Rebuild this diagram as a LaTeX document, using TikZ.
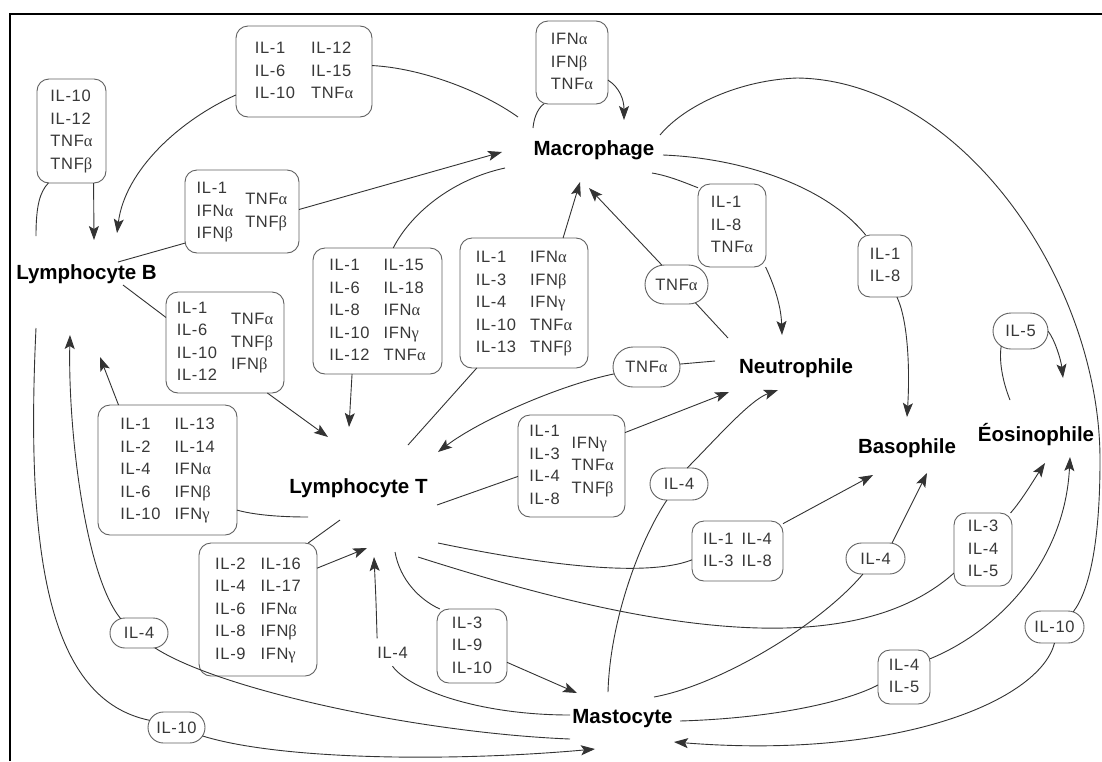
\documentclass[tikz,border=0pt]{standalone}
\usepackage{fontspec}
\setmainfont{Liberation Sans}
\newfontfamily\cytfam[LetterSpace=4]{Liberation Sans}
\newfontfamily\grkfam{Liberation Serif}
\newcommand\cytfont{\cytfam\fontsize{16.5pt}{22.5pt}\selectfont}
\newcommand\cellfont{\fontsize{20.5pt}{24pt}\selectfont\bfseries}
\newcommand\myA{{\grkfam α}}
\newcommand\myB{{\grkfam β}}
\newcommand\myG{{\grkfam γ}}
\newcommand\onecol[1]{\begin{tabular}[c]{@{}l@{}}#1\end{tabular}}
\newcommand\twocol[3][14pt]{\begin{tabular}[c]{@{}l@{}}#2\end{tabular}\hspace{#1}\begin{tabular}[c]{@{}l@{}}#3\end{tabular}}
\usetikzlibrary{arrows.meta,shapes.misc}
\begin{document}
\begin{tikzpicture}[x=1pt,y=-1pt,
  bx/.style={draw=black!62, line width=0.9pt, inner sep=0pt, outer sep=0pt, text=black!78, font=\cytfont},
  box/.style={bx, rectangle, rounded corners=12pt},
  oval/.style={bx, rounded rectangle},
  cell/.style={font=\cellfont, text=black, inner sep=0pt, anchor=base},
  link/.style={draw=black!80, line width=0.9pt},
  arr/.style={link, -{Stealth[length=14pt,width=10pt,inset=3pt]}},
  plain/.style={font=\cytfont, text=black!78, inner xsep=0pt, inner ysep=8pt, anchor=base}]
\useasboundingbox (0,0) rectangle (1102,761);
\fill[white] (0,0) rectangle (1102,761);
% frame
\draw[line width=2.6pt] (10,761) -- (10,14) -- (1102,14);

% cell labels
\node[cell] (LB) at (86.5,279) {Lymphocyte B};
\node[cell] (MA) at (594,155) {Macrophage};
\node[cell] (NE) at (796,373) {Neutrophile};
\node[cell] (LT) at (358.5,493) {Lymphocyte T};
\node[cell] (BA) at (907,453) {Basophile};
\node[cell] (EO) at (1036,441) {Éosinophile};
\node[cell] (MC) at (622.5,723) {Mastocyte};

% cytokine boxes
\node[box, minimum width=69pt, minimum height=104pt] (b1) at (71.5,131) {\onecol{IL-10\\IL-12\\TNF\myA\\TNF\myB}};
\node[box, minimum width=136pt, minimum height=91pt] (b2) at (304,71.5) {\twocol[16pt]{IL-1\\IL-6\\IL-10}{IL-12\\IL-15\\TNF\myA}};
\node[box, minimum width=114pt, minimum height=83pt] (b3) at (242,211.5) {\twocol[12pt]{IL-1\\IFN\myA\\IFN\myB}{TNF\myA\\TNF\myB}};
\node[box, minimum width=72pt, minimum height=83pt] (b4) at (572,62.5) {\onecol{IFN\myA\\IFN\myB\\TNF\myA}};
\node[box, minimum width=68pt, minimum height=83pt] (b5) at (732,225.5) {\onecol{IL-1\\IL-8\\TNF\myA}};
\node[box, minimum width=54pt, minimum height=62pt] (b6) at (885,266) {\onecol{IL-1\\IL-8}};
\node[box, minimum width=118pt, minimum height=101pt] (b7) at (225,342.5) {\twocol{IL-1\\IL-6\\IL-10\\IL-12}{TNF\myA\\TNF\myB\\IFN\myB}};
\node[box, minimum width=129pt, minimum height=126pt] (b8) at (377.5,311) {\twocol{IL-1\\IL-6\\IL-8\\IL-10\\IL-12}{IL-15\\IL-18\\IFN\myA\\IFN\myG\\TNF\myA}};
\node[box, minimum width=128pt, minimum height=130pt] (b9) at (524,303) {\twocol{IL-1\\IL-3\\IL-4\\IL-10\\IL-13}{IFN\myA\\IFN\myB\\IFN\myG\\TNF\myA\\TNF\myB}};
\node[oval, minimum width=63pt, minimum height=39pt] (b10) at (676.5,284.5) {TNF\myA};
\node[oval, minimum width=67pt, minimum height=40pt] (b11) at (646.5,367) {TNF\myA};
\node[box, minimum width=107pt, minimum height=102pt] (b12) at (571.5,466) {\twocol[12pt]{IL-1\\IL-3\\IL-4\\IL-8}{IFN\myG\\TNF\myA\\TNF\myB}};
\node[oval, minimum width=58pt, minimum height=32pt] (b13) at (679,484) {IL-4};
\node[box, minimum width=139pt, minimum height=130pt] (b14) at (167.5,470) {\twocol{IL-1\\IL-2\\IL-4\\IL-6\\IL-10}{IL-13\\IL-14\\IFN\myA\\IFN\myB\\IFN\myG}};
\node[box, minimum width=118pt, minimum height=133pt] (b15) at (258,609.5) {\twocol[15pt]{IL-2\\IL-4\\IL-6\\IL-8\\IL-9}{IL-16\\IL-17\\IFN\myA\\IFN\myB\\IFN\myG}};
\node[oval, minimum width=58pt, minimum height=30pt] (b16) at (139,633) {IL-4};
\node[oval, minimum width=57pt, minimum height=31pt] (b17) at (176.5,727.5) {IL-10};
\node[box, minimum width=70pt, minimum height=74pt] (b18) at (472,646) {\onecol{IL-3\\IL-9\\IL-10}};
\node[box, minimum width=91pt, minimum height=60pt] (b19) at (737.5,551) {\twocol[8pt]{IL-1\\IL-3}{IL-4\\IL-8}};
\node[oval, minimum width=59pt, minimum height=31pt] (b20) at (875.5,558.5) {IL-4};
\node[box, minimum width=58pt, minimum height=73pt] (b21) at (983,549.5) {\onecol{IL-3\\IL-4\\IL-5}};
\node[oval, minimum width=59pt, minimum height=32pt] (b22) at (1054.5,627) {IL-10};
\node[box, minimum width=52pt, minimum height=54pt] (b23) at (904,677) {\onecol{IL-4\\IL-5}};
\node[oval, minimum width=55pt, minimum height=36pt] (b24) at (1020.5,331) {IL-5};
\node[plain] (il4t) at (392.5,658) {IL-4};

% free ends near the cells
\coordinate (lbA) at (36,236);  \coordinate (lbB) at (94,240);  \coordinate (lbC) at (117,233);
\coordinate (lbD) at (118,262); \coordinate (lbE) at (70,335);  \coordinate (lbF) at (36,328);
\coordinate (lbG) at (123,285); \coordinate (lbH) at (100,357);
\coordinate (maA) at (518,117); \coordinate (maB) at (502,152); \coordinate (maC) at (533,128);
\coordinate (maD) at (624,120); \coordinate (maE) at (652,173); \coordinate (maF) at (663,155);
\coordinate (maG) at (660,135); \coordinate (maH) at (505,168); \coordinate (maI) at (580,182);
\coordinate (maJ) at (589,188);
\coordinate (neA) at (782,335); \coordinate (neB) at (778,390); \coordinate (neC) at (728,338);
\coordinate (neD) at (715,361); \coordinate (neE) at (729,392);
\coordinate (ltA) at (374,557); \coordinate (ltB) at (395,552); \coordinate (ltC) at (438,543);
\coordinate (ltD) at (418,557); \coordinate (ltE) at (349,427); \coordinate (ltF) at (408,445);
\coordinate (ltG) at (438,452); \coordinate (ltH) at (437,505); \coordinate (ltI) at (328,437);
\coordinate (ltJ) at (308,517); \coordinate (ltK) at (340,520); \coordinate (ltL) at (367,548);
\coordinate (baA) at (907,417); \coordinate (baB) at (927,473); \coordinate (baC) at (873,475);
\coordinate (eoA) at (1070,457); \coordinate (eoB) at (1045,463); \coordinate (eoC) at (1010,400);
\coordinate (eoD) at (1063,378);
\coordinate (mcA) at (674,742); \coordinate (mcB) at (680,721); \coordinate (mcC) at (654,697);
\coordinate (mcD) at (608,692); \coordinate (mcE) at (570,715); \coordinate (mcF) at (570,739);
\coordinate (mcG) at (595,749); \coordinate (mcH) at (577,693);

% Lymphocyte B
\draw[link] (lbA) .. controls (36,205) and (40,192) .. (b1.246);
\draw[arr] (b1.293) -- (lbB);
\draw[link] (lbD) -- (b3.209);
\draw[arr] (b3.2) -- (maB);
\draw[link] (lbG) -- (b7.157);
\draw[arr] (b7.310) -- (ltI);
\draw[link] (lbF) .. controls (25,560) and (50,700) .. (b17.165);
\draw[arr] (b17.342) .. controls (280,760) and (450,762) .. (mcG);

% Macrophage
\draw[link] (maA) .. controls (480,90) and (420,68) .. (b2.5);
\draw[arr] (b2.199) .. controls (180,120) and (125,170) .. (lbC);
\draw[link] (maC) .. controls (534,115) and (540,106) .. (b4.236);
\draw[arr] (b4.334) .. controls (620,88) and (624,100) .. (maD);
\draw[link] (maE) .. controls (670,176) and (688,184) .. (b5.132);
\draw[arr] (b5.309) .. controls (774,285) and (781,305) .. (neA);
\draw[link] (maF) .. controls (740,158) and (825,185) .. (b6.122);
\draw[arr] (b6.291) .. controls (908,320) and (910,370) .. (baA);
\draw[link] (maG) .. controls (685,105) and (740,80) .. (797,78)
   .. controls (960,80) and (1100,280) .. (1100,460)
   .. controls (1100,540) and (1090,590) .. (b22.39);
\draw[arr] (b22.south) .. controls (1040,700) and (900,760) .. (mcA);
\draw[link] (maH) .. controls (450,180) and (410,215) .. (b8.76);
\draw[arr] (b8.248) -- (ltE);

% Lymphocyte T
\draw[link] (ltF) -- (b9.234);
\draw[arr] (b9.59) -- (maI);
\draw[link] (ltH) -- (b12.191);
\draw[arr] (b12.32) -- (neE);
\draw[link] (ltJ) .. controls (280,517) and (255,515) .. (b14.330);
\draw[arr] (b14.127) -- (lbH);
\draw[link] (ltK) -- (b15.53);
\draw[arr] (b15.35) -- (ltL);
\draw[link] (ltB) .. controls (400,580) and (420,600) .. (b18.131);
\draw[arr] (b18.335) -- (mcH);
\draw[link] (ltC) .. controls (520,560) and (640,580) .. (b19.191);
\draw[arr] (b19.31) -- (baC);
\draw[link] (ltD) .. controls (600,615) and (840,675) .. (b21.219);
\draw[arr] (b21.53) .. controls (1022,500) and (1035,478) .. (eoB);

% Neutrophile
\draw[link] (neC) -- (b10.316);
\draw[arr] (b10.127) -- (maJ);
\draw[link] (neD) -- (b11.5);
\draw[arr] (b11.192) .. controls (560,385) and (480,420) .. (ltG);

% Eosinophile
\draw[link] (eoC) .. controls (1002,380) and (999,360) .. (b24.218);
\draw[arr] (b24.east) .. controls (1055,340) and (1061,360) .. (eoD);

% Mastocyte
\draw[link] (mcB) .. controls (780,718) and (850,700) .. (b23.197);
\draw[arr] (b23.35) .. controls (1000,630) and (1065,560) .. (eoA);
\draw[link] (mcC) .. controls (720,685) and (820,625) .. (b20.231);
\draw[arr] (b20.43) -- (baB);
\draw[link] (mcD) .. controls (610,620) and (640,540) .. (b13.233);
\draw[arr] (b13.63) .. controls (715,440) and (750,400) .. (neB);
\draw[link] (mcE) .. controls (480,715) and (410,690) .. (il4t.south);
\draw[arr] (il4t.north west) .. controls (376,600) .. (ltA);
\draw[link] (mcF) .. controls (420,733) and (220,690) .. (b16.317);
\draw[arr] (b16.142) .. controls (85,575) and (68,430) .. (lbE);
\end{tikzpicture}
\end{document}
